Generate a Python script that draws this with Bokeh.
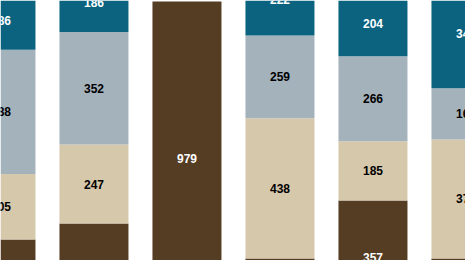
import numpy as np
from bokeh.plotting import figure
from bokeh.models import ColumnDataSource, Range1d
from bokeh.core.properties import value
from bokeh.embed import file_html
from bokeh.resources import INLINE

positions = [0, 1, 2, 3, 4, 5]
series_names = ["s1", "s2", "s3", "s4"]
s1 = [235, 285, 979, 176, 357, 176]   # dark brown (bottom)
s2 = [205, 247, 0, 438, 185, 372]     # tan
s3 = [388, 352, 0, 259, 266, 160]     # grey
s4 = [186, 186, 0, 222, 204, 345]     # teal (top)
colors = ["#543d22", "#d6c8ab", "#a4b2bc", "#0b6380"]
label_colors = ["white", "black", "black", "white"]

y_lo, y_hi = 169.7, 982.1

src = ColumnDataSource(dict(x=positions, s1=s1, s2=s2, s3=s3, s4=s4))

p = figure(width=465, height=260, output_backend="svg", toolbar_location=None,
           x_range=Range1d(-0.005, 4.995), y_range=Range1d(y_lo, y_hi),
           min_border=0, background_fill_color="white")
p.vbar_stack(series_names, x="x", width=0.742, color=colors, source=src,
             line_color=None)

data = np.array([s1, s2, s3, s4], dtype=float)
cum = np.cumsum(data, axis=0)
lx, ly, lt, lc = [], [], [], []
margin = 20
for i in range(4):
    for j, xv in enumerate(positions):
        v = data[i, j]
        if v <= 0:
            continue
        yc = cum[i, j] - v / 2
        # only labels that are at least partly inside the visible window
        if yc < y_lo - margin or yc > y_hi + margin:
            continue
        lx.append(xv)
        ly.append(yc)
        lt.append(str(int(v)))
        lc.append(label_colors[i])

lsrc = ColumnDataSource(dict(x=lx, y=ly, t=lt, c=lc))
p.text(x="x", y="y", text="t", text_color="c", source=lsrc,
       text_align="center", text_baseline="middle",
       text_font=value("Liberation Sans"), text_font_size="12px",
       text_font_style="bold")

p.xaxis.visible = False
p.yaxis.visible = False
p.xgrid.grid_line_color = None
p.ygrid.grid_line_color = None
p.outline_line_color = None

open("out.html", "w").write(file_html(p, INLINE))
